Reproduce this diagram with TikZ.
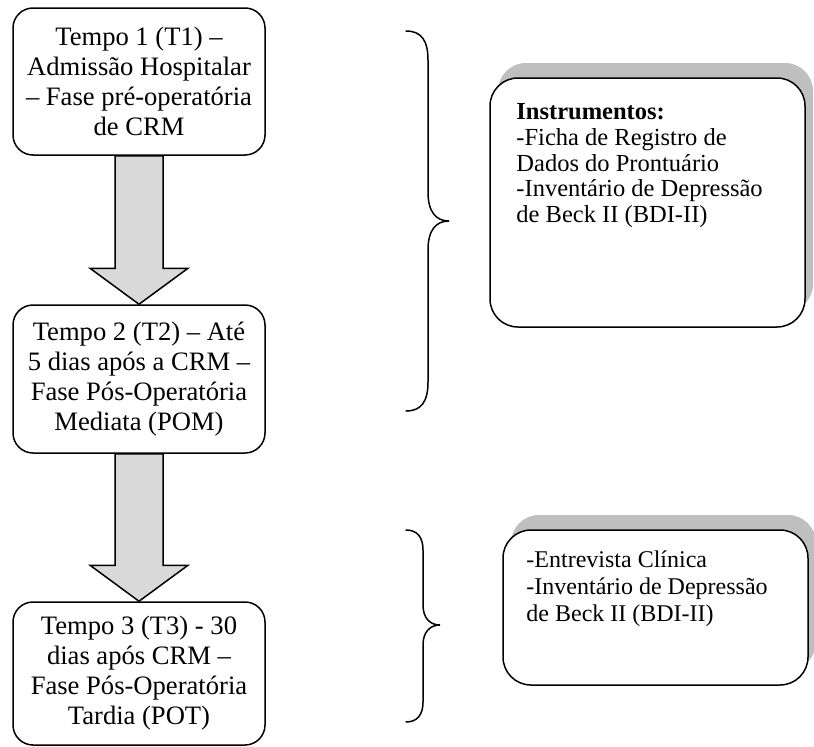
\documentclass[tikz,border=0pt]{standalone}
\usepackage{fontspec}
\setmainfont{Liberation Serif}
\usetikzlibrary{calc,shadows}
\begin{document}
\begin{tikzpicture}[x=1pt,y=-1pt,
  stage/.style={draw, line width=1.5pt, rounded corners=20pt, fill=white,
    minimum width=252pt, align=center, inner sep=0pt,
    font=\fontsize{26.6}{30}\selectfont},
  inst/.style={draw, line width=1.5pt, rounded corners=28pt, fill=white,
    drop shadow={shadow xshift=8pt, shadow yshift=15pt, fill=black!25, opacity=1}},
  insttext/.style={align=left, inner sep=0pt, anchor=north west},
  blockarrow/.style={draw, line width=1.5pt, fill=black!15, line join=miter},
  bracepath/.style={line width=1.5pt, line cap=round}]
\useasboundingbox (0,0) rectangle (814,747);

% stage boxes
\node[stage, minimum height=147pt] (t1) at (139,81.5)
  {Tempo 1 (T1) –\\Admissão Hospitalar\\– Fase pré-operatória\\de CRM};
\node[stage, minimum height=148pt] (t2) at (139,379)
  {Tempo 2 (T2) – Até\\5 dias após a CRM –\\Fase Pós-Operatória\\Mediata (POM)};
\node[stage, minimum height=143pt] (t3) at (139,673.5)
  {Tempo 3 (T3) - 30\\dias após CRM –\\Fase Pós-Operatória\\Tardia (POT)};

% block arrows
\draw[blockarrow] ($(t1.south)+(-24,0)$) -- ($(t2.north)+(-24,-36)$)
  -- ($(t2.north)+(-49,-36)$) -- (t2.north) -- ($(t2.north)+(49,-36)$)
  -- ($(t2.north)+(24,-36)$) -- ($(t1.south)+(24,0)$) -- cycle;
\draw[blockarrow] ($(t2.south)+(-24,0)$) -- ($(t3.north)+(-24,-36)$)
  -- ($(t3.north)+(-49,-36)$) -- (t3.north) -- ($(t3.north)+(49,-36)$)
  -- ($(t3.north)+(24,-36)$) -- ($(t2.south)+(24,0)$) -- cycle;

% instrument boxes
\node[inst, minimum width=315pt, minimum height=249pt] (i1) at (647.5,202.5) {};
\node[insttext, font=\fontsize{24.5}{25.8}\selectfont] (i1t) at ($(i1.north west)+(27,26)$)
  {\textbf{Instrumentos:}\\-Ficha de Registro de\\Dados do Prontuário\\-Inventário de Depressão\\de Beck II (BDI-II)};

\node[inst, minimum width=305pt, minimum height=155pt] (i2) at (655.5,607.5) {};
\node[insttext, font=\fontsize{24}{27}\selectfont] (i2t) at ($(i2.north west)+(24,21.6)$)
  {-Entrevista Clínica\\-Inventário de Depressão\\de Beck II (BDI-II)};

% braces
\coordinate (b1) at (449,221);
\draw[bracepath] (406,31) .. controls (421,31) and (428,40) .. (428,60)
  -- (428,192) .. controls (428,212) and (436,221) .. (b1)
  .. controls (436,221) and (428,230) .. (428,250)
  -- (428,382) .. controls (428,402) and (421,411) .. (406,411);
\coordinate (b2) at (440,625);
\draw[bracepath] (406,530) .. controls (417,530) and (423,537) .. (423,550)
  -- (423,605) .. controls (423,618) and (430,625) .. (b2)
  .. controls (430,625) and (423,632) .. (423,645)
  -- (423,702) .. controls (423,715) and (417,722) .. (406,722);
\end{tikzpicture}
\end{document}
